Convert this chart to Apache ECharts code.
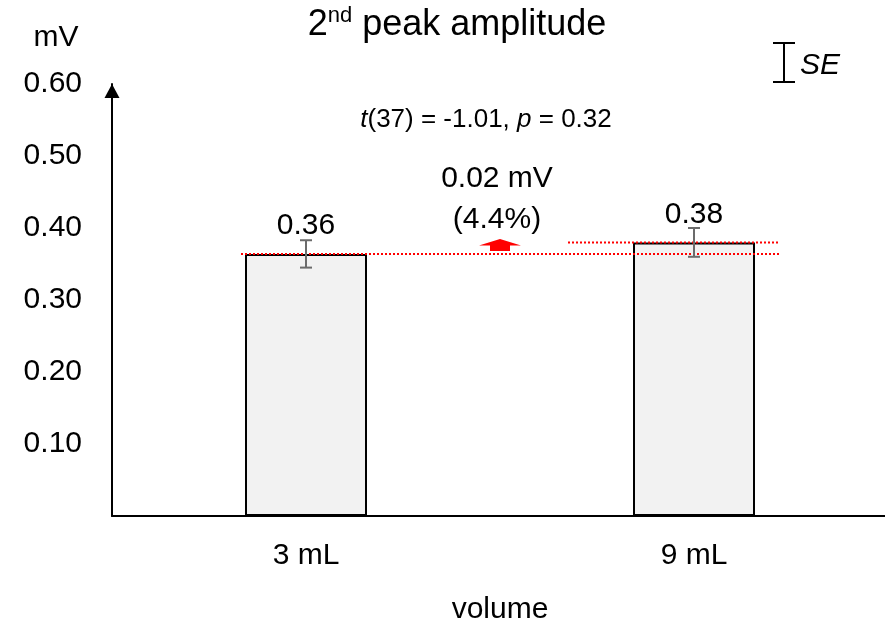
<!DOCTYPE html>
<html>
<head>
<meta charset="utf-8">
<script src="https://cdn.jsdelivr.net/npm/echarts@6/dist/echarts.min.js"></script>
<style>
  html, body { margin: 0; padding: 0; background: #fff; }
  #chart { width: 885px; height: 623px; }
</style>
</head>
<body>
<div id="chart"></div>
<script>
// Mean amplitude of the 2nd peak per volume, with standard errors
const categories = ['3 mL', '9 mL'];
const means = [0.364, 0.380];
const stdErrors = [0.019, 0.020];
const yTickValues = [0.1, 0.2, 0.3, 0.4, 0.5, 0.6];
// Paired comparison: t(df) and p
const testDf = [37];
const testT = [-1.01];
const testP = [0.32];

const FONT = '"Liberation Sans", Arial, sans-serif';
const BAR_W = 122;

const diff = means[1] - means[0];
const pct = diff / means[0] * 100;

const chart = echarts.init(document.getElementById('chart'), null, { renderer: 'canvas' });

function lineEl(x1, y1, x2, y2, style) {
  return { type: 'line', shape: { x1, y1, x2, y2 }, style };
}

const option = {
  backgroundColor: '#ffffff',
  animation: false,
  textStyle: { fontFamily: FONT },
  grid: {
    left: 112, top: 84, width: 776, height: 432,
    containLabel: false, outerBoundsMode: 'none'
  },
  xAxis: {
    type: 'category',
    data: categories,
    boundaryGap: true,
    axisLine: { show: true, lineStyle: { color: '#000', width: 2 } },
    axisTick: { show: false },
    axisLabel: { color: '#000', fontSize: 30, fontFamily: FONT, margin: 25 },
    splitLine: { show: false },
    name: 'volume',
    nameLocation: 'middle',
    nameGap: 79,
    nameTextStyle: { color: '#000', fontSize: 30, fontFamily: FONT }
  },
  yAxis: {
    type: 'value',
    min: 0,
    max: 0.6,
    interval: 0.1,
    axisLine: {
      show: true,
      lineStyle: { color: '#000', width: 2 },
      symbol: ['none', 'triangle'],
      symbolSize: [15, 14],
      symbolOffset: [0, -7]
    },
    axisTick: { show: false },
    splitLine: { show: false },
    axisLabel: {
      color: '#000', fontSize: 30, fontFamily: FONT, margin: 30,
      formatter: v => yTickValues.some(t => Math.abs(t - v) < 1e-9) ? v.toFixed(2) : ''
    }
  },
  series: [
    {
      type: 'bar',
      data: means,
      barWidth: BAR_W,
      itemStyle: { color: '#f2f2f2', borderColor: '#000', borderWidth: 2 },
      label: {
        show: true, position: 'top', distance: 13,
        formatter: p => p.value.toFixed(2),
        color: '#000', fontSize: 30, fontFamily: FONT
      },
      z: 2
    },
    {
      // reference lines at both means, change arrow and its annotation
      type: 'custom',
      data: [[0, means[0], means[1]]],
      z: 5,
      renderItem(params, api) {
        const c1 = api.coord([0, api.value(1)]);
        const c2 = api.coord([1, api.value(2)]);
        const half = BAR_W / 2;
        const dot = { stroke: '#ff0000', lineWidth: 2, lineDash: [2, 2] };
        const cx = (c1[0] + c2[0]) / 2;
        const yBase = c1[1] - 3;
        const yTip = c2[1] - 3.5;
        const headH = 6.5;
        const poly = [
          [cx - 10, yBase], [cx - 10, yTip + headH], [cx - 21, yTip + headH],
          [cx, yTip], [cx + 21, yTip + headH], [cx + 10, yTip + headH], [cx + 10, yBase]
        ];
        return {
          type: 'group',
          children: [
            lineEl(c1[0] - half - 4, c1[1], c2[0] + half + 24, c1[1], dot),
            lineEl(c2[0] - half - 65, c2[1], c2[0] + half + 24, c2[1], dot),
            { type: 'polygon', shape: { points: poly }, style: { fill: '#ff0000' } },
            {
              type: 'text',
              x: cx - 3, y: yTip + 1.5,
              style: {
                text: diff.toFixed(2) + ' mV\n(' + pct.toFixed(1) + '%)',
                fill: '#000', fontSize: 30, fontFamily: FONT,
                align: 'center', verticalAlign: 'bottom', lineHeight: 41
              }
            }
          ]
        };
      }
    },
    {
      // standard error whiskers
      type: 'custom',
      data: means.map((m, i) => [i, m, stdErrors[i]]),
      z: 10,
      renderItem(params, api) {
        const x = api.coord([api.value(0), 0])[0];
        const yHi = api.coord([api.value(0), api.value(1) + api.value(2)])[1];
        const yLo = api.coord([api.value(0), api.value(1) - api.value(2)])[1];
        const st = { stroke: '#6b6b6b', lineWidth: 2 };
        const hw = 6;
        return {
          type: 'group',
          children: [
            lineEl(x, yHi, x, yLo, st),
            lineEl(x - hw, yHi, x + hw, yHi, st),
            lineEl(x - hw, yLo, x + hw, yLo, st)
          ]
        };
      }
    }
  ],
  graphic: [
    {
      // chart title with superscript ordinal
      type: 'text', x: 457, y: 25,
      style: {
        text: '{a|2}{b|nd}{a| peak amplitude}',
        align: 'center', verticalAlign: 'middle',
        rich: {
          a: { fontFamily: FONT, fontSize: 36, fontWeight: 'normal', fill: '#000', lineHeight: 40 },
          b: { fontFamily: FONT, fontSize: 22, fontWeight: 'normal', fill: '#000', verticalAlign: 'top', lineHeight: 26 }
        }
      }
    },
    {
      type: 'text', x: 56, y: 38,
      style: { text: 'mV', fill: '#000', fontSize: 30, fontFamily: FONT, align: 'center', verticalAlign: 'middle' }
    },
    {
      type: 'text', x: 486, y: 120,
      style: {
        text: '{i|t}{n|(' + testDf[0] + ') = ' + testT[0].toFixed(2) + ', }{i|p}{n| = ' + testP[0].toFixed(2) + '}',
        align: 'center', verticalAlign: 'middle',
        rich: {
          i: { fontSize: 26, fontFamily: FONT, fontStyle: 'italic', fill: '#000' },
          n: { fontSize: 26, fontFamily: FONT, fill: '#000' }
        }
      }
    },
    // SE key
    lineEl(784, 43, 784, 82, { stroke: '#000', lineWidth: 2 }),
    lineEl(773, 43, 795, 43, { stroke: '#000', lineWidth: 2 }),
    lineEl(773, 82, 795, 82, { stroke: '#000', lineWidth: 2 }),
    {
      type: 'text', x: 800, y: 66,
      style: { text: 'SE', fill: '#000', fontSize: 30, fontStyle: 'italic', fontFamily: FONT, align: 'left', verticalAlign: 'middle' }
    }
  ]
};

chart.setOption(option);
</script>
</body>
</html>
